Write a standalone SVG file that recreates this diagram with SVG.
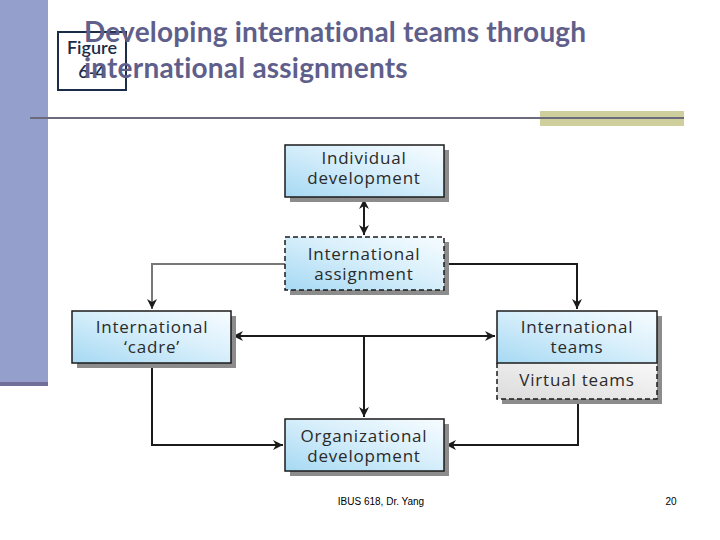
<svg xmlns="http://www.w3.org/2000/svg" width="720" height="540" viewBox="0 0 720 540">
<style>
.node{stroke:#1b1b1b;stroke-width:1.5}
.dash{stroke:#1b1b1b;stroke-width:1.5;stroke-dasharray:5,3}
.shadow{fill:#8c8c8c}
.lbl{font-family:"Open Sans","DejaVu Sans",sans-serif;font-size:17px;fill:#2a2a2a;text-anchor:middle;letter-spacing:0.8px}
.conn{fill:none;stroke:#1b1b1b;stroke-width:2}
.title{font-family:Lato,"Open Sans",sans-serif;font-weight:700;font-size:28px;fill:#5f5f8c;font-variant-ligatures:none}
.foot{font-family:"Liberation Sans",Arial,sans-serif;font-size:10px;fill:#000}
.fig{font-family:Lato,"Open Sans",sans-serif;font-size:18px;fill:#1a2c48;text-anchor:middle;font-weight:600}
</style>
<defs>
<linearGradient id="blue" x1="0" y1="1" x2="1" y2="0">
<stop offset="0" stop-color="#a6d9f3"/>
<stop offset="0.55" stop-color="#d8effb"/>
<stop offset="1" stop-color="#f7fcff"/>
</linearGradient>
<linearGradient id="grey" x1="0" y1="1" x2="1" y2="0">
<stop offset="0" stop-color="#dcdcdc"/>
<stop offset="1" stop-color="#f8f8f8"/>
</linearGradient>
<marker id="arr" viewBox="0 0 10 10" refX="10" refY="5" markerWidth="5" markerHeight="5" orient="auto-start-reverse" markerUnits="strokeWidth">
<path d="M0,0 L10,5 L0,10 L3,5 z" fill="#1b1b1b"/>
</marker>
</defs>
<rect width="720" height="540" fill="#fff"/>
<rect x="0" y="0" width="48" height="382" fill="#959fcc"/>
<rect x="0" y="382" width="48" height="4" fill="#6f6f9a"/>
<rect x="540" y="111" width="144" height="15" fill="#cfcf9e"/>
<line x1="30" y1="118" x2="684" y2="118" stroke="#6b6b7c" stroke-width="2"/>
<g id="figure-label">
<rect x="58" y="32" width="68" height="58" fill="none" stroke="#1a2c48" stroke-width="2"/>
<text class="fig" x="92" y="54">Figure</text>
<text class="fig" x="92" y="78">6-4</text>
</g>
<text class="title" x="84" y="42" letter-spacing="0.2">Developing international teams through</text>
<text class="title" x="84" y="78" letter-spacing="0.2">international assignments</text>
<g id="connectors">
<line class="conn" x1="364" y1="199" x2="364" y2="235" marker-start="url(#arr)" marker-end="url(#arr)"/>
<polyline class="conn" points="285,264 152,264 152,309" marker-end="url(#arr)" style="stroke:#777"/>
<polyline class="conn" points="444,264 577,264 577,309" marker-end="url(#arr)"/>
<line class="conn" x1="233" y1="336" x2="495" y2="336" marker-start="url(#arr)" marker-end="url(#arr)"/>
<line class="conn" x1="364" y1="336" x2="364" y2="417" marker-end="url(#arr)"/>
<polyline class="conn" points="152,363 152,445 283,445" marker-end="url(#arr)"/>
<polyline class="conn" points="578,399 578,445 446,445" marker-end="url(#arr)"/>
</g>
<g id="individual-development">
<rect class="shadow" x="290" y="150" width="159" height="52"/>
<rect class="node" x="285" y="145" width="159" height="52" fill="url(#blue)"/>
<text class="lbl" x="364" y="164">Individual</text>
<text class="lbl" x="364" y="184">development</text>
</g>
<g id="international-assignment">
<rect class="shadow" x="290" y="242" width="159" height="53"/>
<rect class="dash" x="285" y="237" width="159" height="53" fill="url(#blue)"/>
<text class="lbl" x="364" y="260">International</text>
<text class="lbl" x="364" y="280">assignment</text>
</g>
<g id="international-cadre">
<rect class="shadow" x="77" y="316" width="159" height="52"/>
<rect class="node" x="72" y="311" width="159" height="52" fill="url(#blue)"/>
<text class="lbl" x="152" y="333">International</text>
<text class="lbl" x="152" y="353">‘cadre’</text>
</g>
<g id="international-teams">
<rect class="shadow" x="502" y="316" width="160" height="88"/>
<rect x="497" y="363" width="160" height="36" fill="url(#grey)"/>
<path class="dash" d="M497,363 V399 H657 V363" fill="none"/>
<rect class="node" x="497" y="311" width="160" height="52" fill="url(#blue)"/>
<text class="lbl" x="577" y="333">International</text>
<text class="lbl" x="577" y="353">teams</text>
<text class="lbl" x="577" y="386">Virtual teams</text>
</g>
<g id="organizational-development">
<rect class="shadow" x="290" y="424" width="159" height="52"/>
<rect class="node" x="285" y="419" width="159" height="52" fill="url(#blue)"/>
<text class="lbl" x="364" y="442">Organizational</text>
<text class="lbl" x="364" y="462">development</text>
</g>
<text class="foot" x="381" y="505" text-anchor="middle">IBUS 618, Dr. Yang</text>
<text class="foot" x="671" y="505" text-anchor="middle">20</text>
</svg>
